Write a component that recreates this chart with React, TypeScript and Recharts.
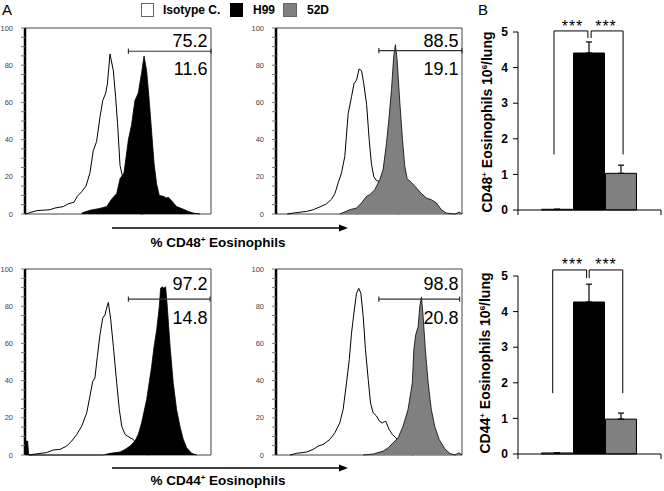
import React from "react";
import {
  AreaChart,
  Area,
  BarChart,
  Bar,
  Cell,
  ErrorBar,
  XAxis,
  YAxis,
  ReferenceLine,
  ReferenceArea,
} from "recharts";

const FONT = "'Liberation Sans', Arial, Helvetica, sans-serif";

// flow histograms: [channel 0-1000, % of max]
const cd48Iso1 = [[5, 0], [18, 0.5], [63, 1.8], [134, 2.3], [161, 3.2], [206, 4], [233, 5.5], [263, 6.3], [281, 9.5], [305, 12], [328, 15], [349, 22], [367, 34], [385, 39], [403, 52], [418, 61], [434, 65], [443, 70], [457, 86], [475, 77], [487, 63], [498, 48], [511, 26], [525, 20], [547, 11], [573, 4], [600, 0.5], [636, 0]];
const cd48H99 = [[305, 0.5], [349, 2], [403, 3], [439, 4], [466, 8], [493, 11], [511, 19], [532, 22], [556, 40], [573, 48], [591, 61], [609, 65], [627, 76], [640, 85], [654, 77], [668, 61], [681, 44], [694, 27], [708, 16], [722, 10], [744, 9.5], [762, 8.6], [771, 9], [789, 7], [815, 4], [848, 2.7], [878, 1.4], [905, 0.5], [941, 0]];
const cd48Iso2 = [[60, 0], [93, 0.5], [165, 1.4], [200, 2.3], [236, 3.8], [272, 5.5], [299, 8], [317, 11], [335, 17], [352, 22], [370, 31], [388, 54], [406, 63], [419, 70], [433, 72], [447, 78], [460, 77], [472, 70], [487, 59], [501, 40], [513, 27], [526, 20], [540, 18], [555, 17.5], [576, 13], [603, 6], [630, 1.4], [657, 0]];
const cd48D52 = [[343, 0], [397, 2.3], [433, 3.2], [460, 6], [487, 9.5], [504, 10.4], [531, 13], [558, 18.5], [576, 24], [594, 38], [608, 52], [621, 67], [633, 85], [642, 91], [651, 83], [665, 61], [680, 40], [692, 26], [705, 19], [728, 17], [755, 14], [782, 11], [809, 8.6], [835, 7.7], [862, 6], [889, 2.3], [916, 0.5], [961, 0], [987, 1], [1000, 0]];
const cd44Iso1 = [[20, 0], [54, 0.5], [116, 1.3], [152, 2.7], [188, 3], [224, 4.8], [251, 7.5], [278, 11], [305, 15.5], [332, 22.7], [349, 31.6], [364, 39.6], [376, 41.4], [389, 53], [403, 64.6], [418, 73.6], [430, 75.4], [439, 79], [448, 82], [461, 72.7], [475, 58.4], [493, 38.8], [507, 24.5], [520, 15.5], [538, 11], [565, 9.3], [582, 8.4], [609, 4.8], [636, 1.3], [663, 0]];
const cd44H99 = [[0, 7.5], [14, 7.5], [20, 0], [421, 0], [457, 0.9], [511, 1.6], [538, 3], [565, 4.8], [591, 7.5], [609, 11], [627, 17.3], [654, 29.8], [681, 47.7], [694, 58.4], [708, 67.3], [722, 79.8], [729, 89.6], [738, 90.5], [747, 89.6], [756, 90.5], [765, 79.8], [780, 58.4], [797, 38.8], [815, 24.5], [833, 15.5], [851, 8.4], [869, 3.9], [896, 0.9], [923, 0]];
const cd44Iso2 = [[75, 0], [111, 0.9], [165, 1.6], [200, 3], [227, 4.8], [254, 5.7], [290, 8.4], [317, 12], [343, 17.3], [361, 24.5], [379, 38.8], [394, 51.3], [406, 65.5], [419, 76.3], [433, 87], [445, 89.6], [456, 87], [469, 74.5], [481, 56.6], [496, 40.5], [508, 28], [522, 22.7], [540, 21], [558, 18], [572, 17.3], [590, 18.2], [608, 13.75], [626, 11], [644, 9.3], [665, 6.6], [683, 3.9], [710, 0.9], [737, 0]];
const cd44D52 = [[469, 0], [522, 0.5], [576, 2.1], [603, 3.9], [630, 6.6], [657, 9.3], [683, 15.5], [710, 24.5], [733, 38.8], [741, 56.6], [751, 64.6], [764, 69], [773, 79.8], [782, 85], [791, 74.5], [803, 56.6], [818, 38.8], [835, 24.5], [853, 15.5], [877, 8.4], [907, 3.4], [934, 0.9], [961, 0], [984, 1.2], [1000, 0]];

// gates: [start, end, height]
const cd48Gate1 = [556, 1000, 87.5];
const cd48Gate2 = [553, 1000, 87.8];
const cd44Gate1 = [556, 995, 83.8];
const cd44Gate2 = [553, 987, 83.8];

const histTicks = [0, 5, 10, 15, 20, 25, 30, 35, 40, 45, 50, 55, 60, 65, 70, 75, 80, 85, 90, 95, 100];

// panel B
const groupX = [1, 2, 3];
const groupColors = ["#ffffff", "#000000", "#808080"];
const cd48Means = [0.02, 4.41, 1.03];
const cd48Err = [0, 0.31, 0.23];
const cd44Means = [0.03, 4.27, 0.98];
const cd44Err = [0, 0.5, 0.17];
const countTicks = [0, 1, 2, 3, 4, 5];
const cd48Brackets = [
  [[0.89, 1.56], [0.89, 5.03], [1.95, 5.03], [1.95, 4.83]],
  [[2.05, 4.83], [2.05, 5.03], [3.05, 5.03], [3.05, 1.56]],
];
const cd44Brackets = [
  [[0.85, 1.71], [0.85, 5.17], [1.91, 5.17], [1.91, 4.94]],
  [[1.99, 4.94], [1.99, 5.17], [3.04, 5.17], [3.04, 1.71]],
];

function mergeTraces(neg: number[][], pos: number[][]) {
  const rows = new Map<number, any>();
  neg.forEach(([c, v]) => rows.set(c, { ...(rows.get(c) || { ch: c }), neg: v }));
  pos.forEach(([c, v]) => rows.set(c, { ...(rows.get(c) || { ch: c }), pos: v }));
  return [...rows.values()].sort((a, b) => a.ch - b.ch);
}

function Histogram({ left, top, neg, pos, color, gate, hi, lo, hiTop, loTop }: any) {
  const data = mergeTraces(neg, pos);
  const [g0, g1, gy] = gate;
  const numStyle: React.CSSProperties = {
    position: "absolute",
    right: 7.5,
    fontSize: 18,
    lineHeight: "18px",
    fontFamily: FONT,
  };
  return (
    <div style={{ position: "absolute", left, top }}>
      <AreaChart width={215} height={200} data={data} margin={{ top: 8, right: 4, bottom: 6, left: 5 }}>
        <XAxis dataKey="ch" type="number" domain={[0, 1000]} hide />
        <YAxis
          type="number"
          domain={[0, 100]}
          ticks={histTicks}
          interval={0}
          width={20}
          tickSize={4}
          tickMargin={8}
          tickFormatter={(v: number) => (v % 20 === 0 ? String(v) : "")}
          tick={{ fontSize: 7.5, fill: "#444", fontFamily: FONT }}
          axisLine={{ stroke: "#000", strokeWidth: 2.5 }}
          tickLine={{ stroke: "#777" }}
        />
        <ReferenceArea x1={0} x2={1000} y1={0} y2={100} fill="none" stroke="#444" strokeWidth={1} />
        <Area
          dataKey="neg"
          type="linear"
          stroke="#000"
          strokeWidth={1}
          fill="none"
          connectNulls
          dot={false}
          activeDot={false}
          isAnimationActive={false}
        />
        <Area
          dataKey="pos"
          type="linear"
          stroke="#000"
          strokeWidth={0.8}
          fill={color}
          fillOpacity={1}
          connectNulls
          dot={false}
          activeDot={false}
          isAnimationActive={false}
        />
        <ReferenceLine segment={[{ x: g0, y: gy }, { x: g1, y: gy }]} stroke="#333" strokeWidth={1.2} ifOverflow="visible" />
        <ReferenceLine segment={[{ x: g0, y: gy - 1.4 }, { x: g0, y: gy + 1.4 }]} stroke="#333" strokeWidth={1.2} ifOverflow="visible" />
        <ReferenceLine segment={[{ x: g1, y: gy - 1.4 }, { x: g1, y: gy + 1.4 }]} stroke="#333" strokeWidth={1.2} ifOverflow="visible" />
      </AreaChart>
      <div style={{ ...numStyle, top: hiTop }}>{hi}</div>
      <div style={{ ...numStyle, top: loTop }}>{lo}</div>
    </div>
  );
}

function CountChart({ top, means, errs, brackets, marker }: any) {
  const data = groupX.map((x, i) => ({ x, value: means[i], err: [0, errs[i]] }));
  return (
    <div style={{ position: "absolute", left: 470, top }}>
      <BarChart width={194} height={210} data={data} margin={{ top: 22, right: 3, left: 0, bottom: 4 }}>
        <XAxis
          dataKey="x"
          type="number"
          domain={[-0.235, 4.235]}
          ticks={[-0.235, 4.235]}
          height={6}
          tickSize={5}
          tickFormatter={() => ""}
          axisLine={{ stroke: "#000" }}
          tickLine={{ stroke: "#000" }}
        />
        <YAxis
          type="number"
          domain={[0, 5]}
          ticks={countTicks}
          width={48}
          tickSize={5}
          tickMargin={5}
          tick={{ fontSize: 12, fontWeight: 700, fill: "#000", fontFamily: FONT }}
          axisLine={{ stroke: "#000" }}
          tickLine={{ stroke: "#000" }}
        />
        <Bar dataKey="value" barSize={31} stroke="#000" strokeWidth={1} isAnimationActive={false}>
          {data.map((_, i) => (
            <Cell key={i} fill={groupColors[i]} />
          ))}
          <ErrorBar dataKey="err" width={3} stroke="#000" strokeWidth={1.2} direction="y" />
        </Bar>
        {brackets.map((pts: number[][], b: number) =>
          pts.slice(1).map((p, i) => (
            <ReferenceLine
              key={`${b}-${i}`}
              segment={[{ x: pts[i][0], y: pts[i][1] }, { x: p[0], y: p[1] }]}
              stroke="#000"
              strokeWidth={1}
              ifOverflow="visible"
            />
          ))
        )}
      </BarChart>
      {[102.5, 136].map((cx) => (
        <div
          key={cx}
          style={{
            position: "absolute",
            left: cx,
            top: marker,
            transform: "translateX(-50%)",
            fontSize: 16,
            lineHeight: "16px",
            letterSpacing: 1,
            fontFamily: FONT,
            whiteSpace: "nowrap",
          }}
        >
          ***
        </div>
      ))}
    </div>
  );
}

function Sup({ children }: any) {
  return <span style={{ fontSize: 8, position: "relative", top: -5 }}>{children}</span>;
}

const txt = (s: React.CSSProperties): React.CSSProperties => ({
  position: "absolute",
  fontFamily: FONT,
  whiteSpace: "nowrap",
  lineHeight: 1,
  ...s,
});

export default function App() {
  return (
    <div style={{ position: "relative", width: 664, height: 491, background: "#fff", overflow: "hidden" }}>
      <style>{`body{margin:0}`}</style>
      <div style={txt({ left: 2, top: 1.5, fontSize: 15 })}>A</div>
      <div style={txt({ left: 478, top: 1.5, fontSize: 15 })}>B</div>

      {/* legend */}
      <div style={{ position: "absolute", left: 141, top: 3, width: 13, height: 14, border: "1px solid #666", boxSizing: "border-box", background: "#fff" }} />
      <div style={txt({ left: 163, top: 4, fontSize: 12, fontWeight: 700 })}>Isotype C.</div>
      <div style={{ position: "absolute", left: 230, top: 3, width: 13, height: 14, background: "#000" }} />
      <div style={txt({ left: 253, top: 4, fontSize: 12, fontWeight: 700 })}>H99</div>
      <div style={{ position: "absolute", left: 283, top: 3, width: 14, height: 14, border: "1px solid #666", boxSizing: "border-box", background: "#808080" }} />
      <div style={txt({ left: 307, top: 4, fontSize: 12, fontWeight: 700 })}>52D</div>

      <Histogram left={0} top={20} neg={cd48Iso1} pos={cd48H99} color="#000" gate={cd48Gate1} hi="75.2" lo="11.6" hiTop={11.5} loTop={39.5} />
      <Histogram left={251} top={20} neg={cd48Iso2} pos={cd48D52} color="#808080" gate={cd48Gate2} hi="88.5" lo="19.1" hiTop={11.5} loTop={39.5} />
      <Histogram left={0} top={261} neg={cd44Iso1} pos={cd44H99} color="#000" gate={cd44Gate1} hi="97.2" lo="14.8" hiTop={14} loTop={48} />
      <Histogram left={251} top={261} neg={cd44Iso2} pos={cd44D52} color="#808080" gate={cd44Gate2} hi="98.8" lo="20.8" hiTop={14} loTop={48} />

      <svg width={664} height={491} style={{ position: "absolute", left: 0, top: 0, pointerEvents: "none" }}>
        <line x1={112} y1={228} x2={341} y2={228} stroke="#000" strokeWidth={1.5} />
        <polygon points="348,228 339,224.5 339,231.5" fill="#000" />
        <line x1={112} y1={468} x2={341} y2={468} stroke="#000" strokeWidth={1.5} />
        <polygon points="348,468 339,464.5 339,471.5" fill="#000" />
      </svg>
      <div style={txt({ left: 218, top: 235.5, fontSize: 13.5, fontWeight: 700, transform: "translateX(-50%)" })}>
        % CD48<Sup>+</Sup> Eosinophils
      </div>
      <div style={txt({ left: 218, top: 473.5, fontSize: 13.5, fontWeight: 700, transform: "translateX(-50%)" })}>
        % CD44<Sup>+</Sup> Eosinophils
      </div>

      <CountChart top={10} means={cd48Means} errs={cd48Err} brackets={cd48Brackets} marker={9} />
      <CountChart top={254} means={cd44Means} errs={cd44Err} brackets={cd44Brackets} marker={3} />
      <div style={txt({ left: 487, top: 122, fontSize: 14, fontWeight: 700, transform: "translate(-50%,-50%) rotate(-90deg)" })}>
        CD48<Sup>+</Sup> Eosinophils 10<Sup>6</Sup>/lung
      </div>
      <div style={txt({ left: 485, top: 363, fontSize: 14, fontWeight: 700, transform: "translate(-50%,-50%) rotate(-90deg)" })}>
        CD44<Sup>+</Sup> Eosinophils 10<Sup>6</Sup>/lung
      </div>
    </div>
  );
}
